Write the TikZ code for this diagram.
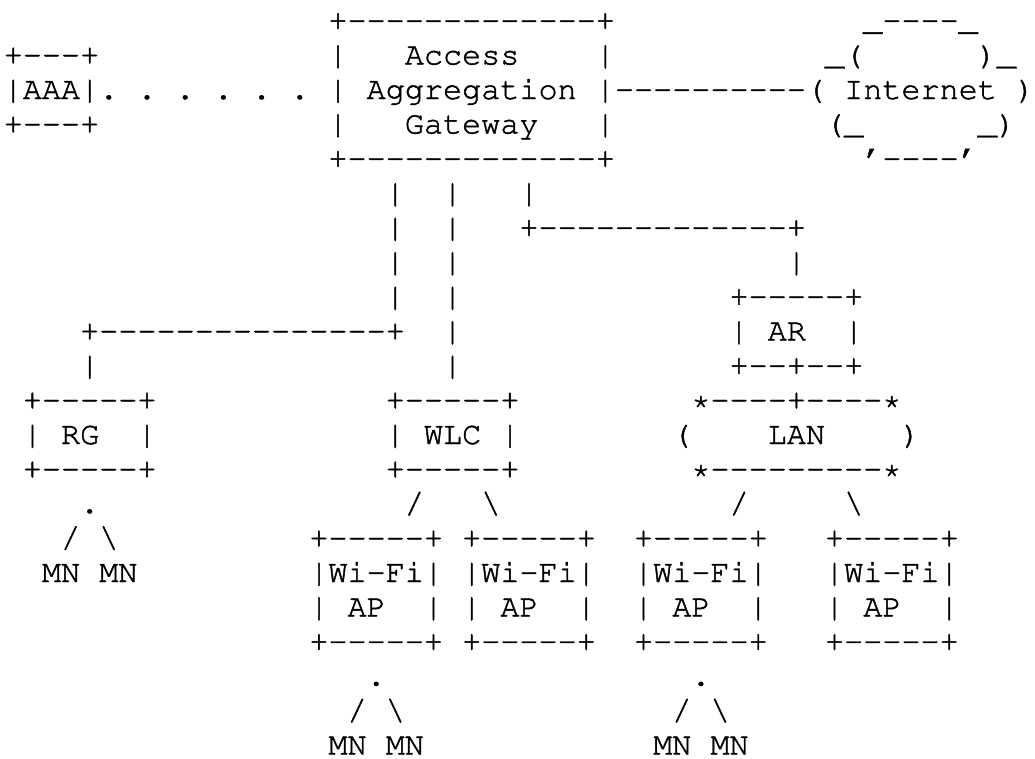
\documentclass[tikz,border=0pt]{standalone}
\newcommand\crfont{\fontencoding{T1}\fontfamily{pcr}\fontsize{31.83}{34.5}\selectfont}
\newcommand\dsh[1]{\foreach\k in {1,...,#1}{-}}
\tikzset{asc/.style={anchor=base west, inner sep=0pt, outer sep=0pt, font=\crfont}}
\begin{document}
\begin{tikzpicture}[x=19.1pt, y=-34.5pt]
\useasboundingbox (0pt,0pt) rectangle (1035pt,-758pt);
\special{pdf:literal direct 2 Tr 0.45 w}
\begin{scope}[shift={(3.75pt,-30pt)}, every node/.style={asc}]
% row 0
\node (gwtop) at (17,0) {+\dsh{13}+};
\node (net0) at (45,0) {\_\dsh{4}\_};
% row 1
\node (aaatop) at (0,1) {+\dsh{3}+};
\node (gw1) at (17,1) {|~~~Access~~~~|};
\node (net1) at (43,1) {\_(~~~~~~)\_};
% row 2
\node (aaa) at (0,2) {|AAA|};
\node (aaalink) at (5,2) {.~.~.~.~.~.};
\node (gw2) at (17,2) {|~Aggregation~|};
\node (netlink) at (32,2) {\dsh{10}};
\node (net2) at (42,2) {(~Internet~)};
% row 3
\node (aaabot) at (0,3) {+\dsh{3}+};
\node (gw3) at (17,3) {|~~~Gateway~~~|};
\node (net3) at (43,3) {(\_~~~~~~\_)};
% row 4
\node (gwbot) at (17,4) {+\dsh{13}+};
\node (net4) at (45,4) {'\dsh{4}'};
% row 5
\node (v5a) at (20,5) {|};
\node (v5b) at (23,5) {|};
\node (v5c) at (27,5) {|};
% row 6
\node (v6a) at (20,6) {|};
\node (v6b) at (23,6) {|};
\node (h6) at (27,6) {+\dsh{13}+};
% row 7
\node (v7a) at (20,7) {|};
\node (v7b) at (23,7) {|};
\node (v7c) at (41,7) {|};
% row 8
\node (v8a) at (20,8) {|};
\node (v8b) at (23,8) {|};
\node (artop) at (38,8) {+\dsh{5}+};
% row 9
\node (h9) at (4,9) {+\dsh{15}+};
\node (v9b) at (23,9) {|};
\node (ar) at (38,9) {|~AR~~|};
% row 10
\node (v10a) at (4,10) {|};
\node (v10b) at (23,10) {|};
\node (arbot) at (38,10) {+\dsh{2}+\dsh{2}+};
% row 11
\node (rgtop) at (1,11) {+\dsh{5}+};
\node (wlctop) at (20,11) {+\dsh{5}+};
\node (lantop) at (36,11) {*\dsh{4}+\dsh{4}*};
% row 12
\node (rg) at (1,12) {|~RG~~|};
\node (wlc) at (20,12) {|~WLC~|};
\node (lan) at (35,12) {(~~~~LAN~~~~)};
% row 13
\node (rgbot) at (1,13) {+\dsh{5}+};
\node (wlcbot) at (20,13) {+\dsh{5}+};
\node (lanbot) at (36,13) {*\dsh{9}*};
% row 14
\node (rgdot) at (4,14) {.};
\node (s14a) at (21,14) {/};
\node (s14b) at (25,14) {\textbackslash};
\node (s14c) at (38,14) {/};
\node (s14d) at (44,14) {\textbackslash};
% row 15
\node (rgmn) at (3,15) {/~\textbackslash};
\node (ap1top) at (16,15) {+\dsh{5}+};
\node (ap2top) at (24,15) {+\dsh{5}+};
\node (ap3top) at (33,15) {+\dsh{5}+};
\node (ap4top) at (43,15) {+\dsh{5}+};
% row 16
\node (rgmns) at (2,16) {MN~MN};
\node (ap1a) at (16,16) {|Wi-Fi|};
\node (ap2a) at (24,16) {|Wi-Fi|};
\node (ap3a) at (33,16) {|Wi-Fi|};
\node (ap4a) at (43,16) {|Wi-Fi|};
% row 17
\node (ap1b) at (16,17) {|~AP~~|};
\node (ap2b) at (24,17) {|~AP~~|};
\node (ap3b) at (33,17) {|~AP~~|};
\node (ap4b) at (43,17) {|~AP~~|};
% row 18
\node (ap1bot) at (16,18) {+\dsh{5}+};
\node (ap2bot) at (24,18) {+\dsh{5}+};
\node (ap3bot) at (33,18) {+\dsh{5}+};
\node (ap4bot) at (43,18) {+\dsh{5}+};
% row 19
\node (ap1dot) at (19,19) {.};
\node (ap3dot) at (36,19) {.};
% row 20
\node (ap1sl) at (18,20) {/~\textbackslash};
\node (ap3sl) at (35,20) {/~\textbackslash};
% row 21
\node (ap1mn) at (17,21) {MN~MN};
\node (ap3mn) at (34,21) {MN~MN};
\end{scope}
\special{pdf:literal direct 0 Tr}
\end{tikzpicture}
\end{document}
